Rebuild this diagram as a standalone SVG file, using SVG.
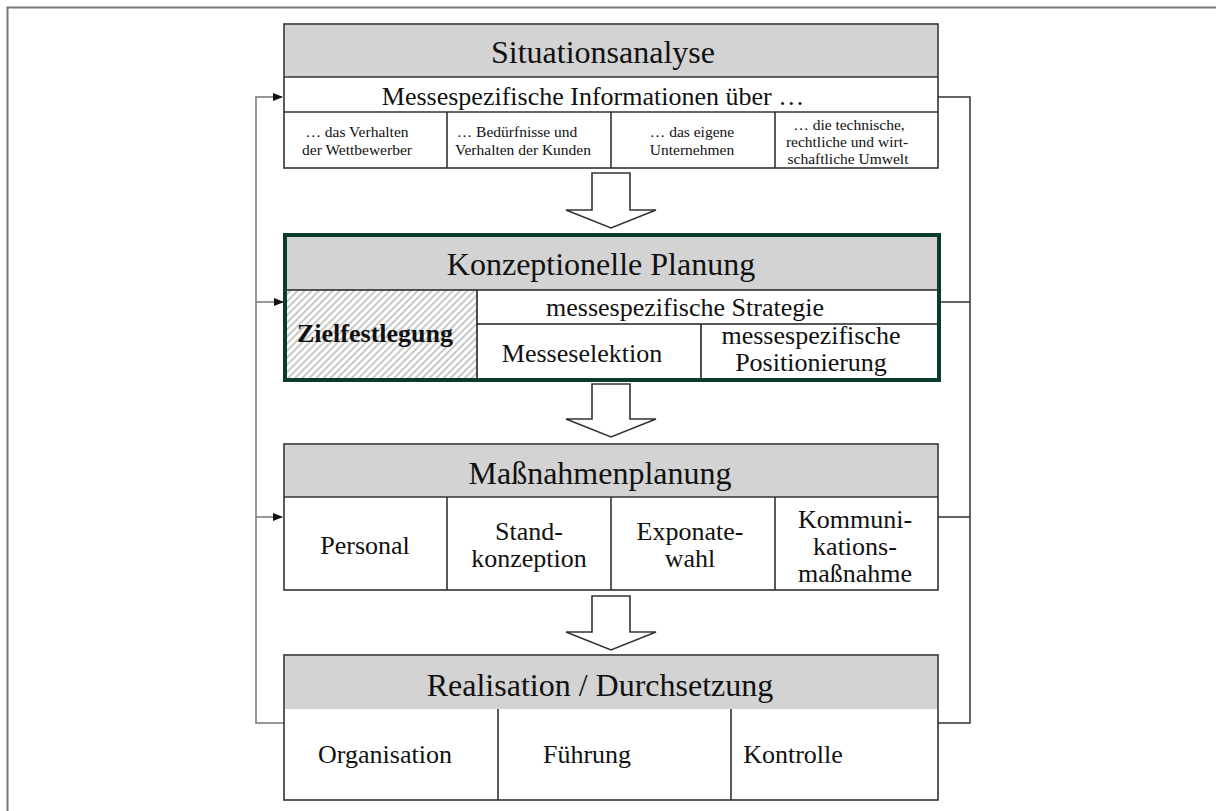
<svg xmlns="http://www.w3.org/2000/svg" width="1216" height="811" viewBox="0 0 1216 811">
<style>
.t{font-family:"Liberation Serif","Times New Roman",serif;fill:#111;text-anchor:middle}
.h{font-size:32px}
.m{font-size:26px}
.s{font-size:15.5px}
.box{fill:#fff;stroke:#333;stroke-width:1.6}
.hdr{fill:#d3d3d3}
.ln{stroke:#333;stroke-width:1.6;fill:none}
.fb{stroke:#777;stroke-width:1.5;fill:none}
.blk{fill:#fff;stroke:#333;stroke-width:1.6}
</style>
<defs>
<marker id="ah" markerWidth="10" markerHeight="8" refX="9" refY="4" orient="auto" markerUnits="userSpaceOnUse">
<path d="M0,0 L10,4 L0,8 Z" fill="#111"/>
</marker>
<pattern id="hatch" width="5" height="5" patternUnits="userSpaceOnUse" patternTransform="rotate(45)">
<rect width="5" height="5" fill="#fff"/>
<line x1="1" y1="0" x2="1" y2="5" stroke="#bbb" stroke-width="1.6"/>
</pattern>
</defs>
<rect width="1216" height="811" fill="#fff"/>
<path d="M7.5,811 V7.5 H1216" fill="none" stroke="#777" stroke-width="2"/>

<g id="connectors">
<path class="fb" d="M284,723 H256 V97 H282" marker-end="url(#ah)"/>
<path class="fb" d="M256,302 H283" marker-end="url(#ah)"/>
<path class="fb" d="M256,517 H282" marker-end="url(#ah)"/>
<path class="fb" d="M938,97 H970 V723 H938 M940,302 H970 M938,517 H970" style="stroke:#333"/>
<path class="blk" d="M592,173 H630 V210 H656 L611,228 L566,210 H592 Z"/>
<path class="blk" d="M592,384 H630 V419 H656 L611,437 L566,419 H592 Z"/>
<path class="blk" d="M592,596 H630 V632 H656 L611,650 L566,632 H592 Z"/>
</g>

<g id="situationsanalyse">
<rect class="box" x="284" y="24" width="654" height="144"/>
<rect class="hdr" x="285" y="25" width="652" height="52"/>
<path class="ln" d="M284,77 H938 M284,112 H938 M447,112 V168 M611,112 V168 M775,112 V168"/>
<text class="t h" x="603" y="63">Situationsanalyse</text>
<text class="t m" x="593" y="105">Messespezifische Informationen über …</text>
<text class="t s"><tspan x="357" y="137">… das Verhalten</tspan><tspan x="357" y="155">der Wettbewerber</tspan></text>
<text class="t s"><tspan x="517" y="137">… Bedürfnisse und</tspan><tspan x="523" y="155">Verhalten der Kunden</tspan></text>
<text class="t s"><tspan x="692" y="137">… das eigene</tspan><tspan x="692" y="155">Unternehmen</tspan></text>
<text class="t s"><tspan x="849" y="130">… die technische,</tspan><tspan x="847" y="147">rechtliche und wirt-</tspan><tspan x="848" y="164">schaftliche Umwelt</tspan></text>
</g>

<g id="konzeptionelle-planung">
<rect x="285" y="235" width="654" height="145" fill="#fff"/>
<rect class="hdr" x="287" y="237" width="650" height="53"/>
<rect x="287" y="290" width="190" height="88" fill="url(#hatch)"/>
<path class="ln" d="M287,290 H937 M477,290 V378 M477,324 H937 M701,324 V378" style="stroke:#222"/>
<rect x="285" y="235" width="654" height="145" fill="none" stroke="#0b3b2c" stroke-width="4"/>
<text class="t h" x="601" y="275">Konzeptionelle Planung</text>
<text class="t m" x="685" y="316">messespezifische Strategie</text>
<text class="t m" x="375" y="342" style="font-weight:bold">Zielfestlegung</text>
<text class="t m" x="582" y="362">Messeselektion</text>
<text class="t m" x="811" y="344">messespezifische</text>
<text class="t m" x="811" y="371">Positionierung</text>
</g>

<g id="massnahmenplanung">
<rect class="box" x="284" y="444" width="654" height="146"/>
<rect class="hdr" x="285" y="445" width="652" height="52"/>
<path class="ln" d="M284,497 H938 M447,497 V590 M611,497 V590 M775,497 V590"/>
<text class="t h" x="600" y="484">Maßnahmenplanung</text>
<text class="t m" x="365" y="554">Personal</text>
<text class="t m"><tspan x="529" y="540">Stand-</tspan><tspan x="529" y="567">konzeption</tspan></text>
<text class="t m"><tspan x="690" y="540">Exponate-</tspan><tspan x="690" y="567">wahl</tspan></text>
<text class="t m"><tspan x="855" y="528">Kommuni-</tspan><tspan x="855" y="555">kations-</tspan><tspan x="855" y="582">maßnahme</tspan></text>
</g>

<g id="realisation">
<rect class="box" x="284" y="655" width="654" height="145"/>
<rect class="hdr" x="285" y="656" width="652" height="53"/>
<path class="ln" d="M498,709 V800 M731,709 V800"/>
<text class="t h" x="600" y="696">Realisation / Durchsetzung</text>
<text class="t m" x="385" y="763">Organisation</text>
<text class="t m" x="587" y="763">Führung</text>
<text class="t m" x="793" y="763">Kontrolle</text>
</g>
</svg>
